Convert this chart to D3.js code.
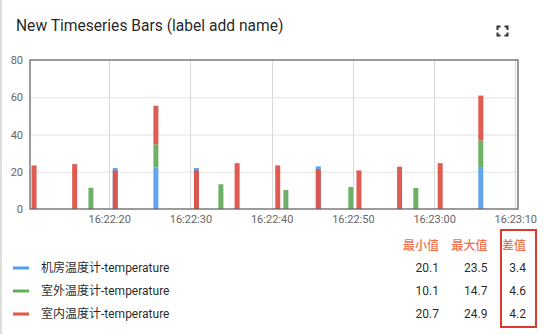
<!DOCTYPE html>
<html>
<head>
<meta charset="utf-8">
<script src="https://cdn.jsdelivr.net/npm/d3@7/dist/d3.min.js"></script>
<style>
  html, body { margin: 0; padding: 0; background: #fff; }
  svg { display: block; font-family: Roboto, "Noto Sans CJK SC", sans-serif; }
</style>
</head>
<body>
<svg id="chart" width="544" height="334"></svg>
<script>
// chart data
const title = 'New Timeseries Bars (label add name)';
const seriesNames = ['机房温度计-temperature', '室外温度计-temperature', '室内温度计-temperature'];

const blueTimes = ['16:22:20.740', '16:22:25.750', '16:22:30.740', '16:22:45.740', '16:23:05.750'];
const blueValues = [22.0, 22.3, 22.0, 22.9, 22.1];

const greenTimes = ['16:22:17.750', '16:22:25.750', '16:22:33.750', '16:22:41.750',
  '16:22:49.750', '16:22:57.750', '16:23:05.750'];
const greenValues = [11.4, 12.4, 13.3, 10.2, 11.8, 11.3, 14.7];

const redTimes = ['16:22:10.750', '16:22:15.750', '16:22:20.750', '16:22:25.750',
  '16:22:30.750', '16:22:35.750', '16:22:40.750', '16:22:45.750', '16:22:50.750',
  '16:22:55.750', '16:23:00.750', '16:23:05.750'];
const redValues = [23.4, 24.1, 20.7, 20.7, 20.7, 24.6, 23.4, 21.4, 20.7, 22.7, 24.6, 24.1];

const timeRange = ['16:22:10.250', '16:23:10.330'];
const yTicks = [0, 20, 40, 60, 80];

const legendHeaders = ['最小值', '最大值', '差值'];
const legendMin = ['20.1', '10.1', '20.7'];
const legendMax = ['23.5', '14.7', '24.9'];
const legendDiff = ['3.4', '4.6', '4.2'];

const colors = ['#5aa0ee', '#66ad5e', '#dc5348'];
const swatchColors = ['#4f9ef2', '#5fb158', '#e8553f'];

const width = 544;
const margin = { top: 60, right: 26, bottom: 125, left: 30 };
const height = 334;

const parse = d3.timeParse('%H:%M:%S.%L');
const svg = d3.select('#chart');

// card edge on the left
svg.append('rect')
  .attr('x', 0).attr('y', 0)
  .attr('width', 2).attr('height', height)
  .attr('fill', '#dedede');

svg.append('text')
  .attr('x', 16).attr('y', 31)
  .attr('font-size', 15.6)
  .attr('fill', 'rgba(0,0,0,0.87)')
  .text(title);

// fullscreen icon
const fs = svg.append('g')
  .attr('transform', 'translate(497.5,26.5)')
  .attr('fill', 'none')
  .attr('stroke', '#333')
  .attr('stroke-width', 2);
fs.append('path').attr('d', 'M0,3.5V0H3 M7,0H10V3.5 M10,6V9H7 M3,9H0V6');

// series rows with stacking on equal timestamps
const series = [
  { times: blueTimes, values: blueValues },
  { times: greenTimes, values: greenValues },
  { times: redTimes, values: redValues }
];
const stackBase = new Map();
const bars = [];
series.forEach((s, si) => {
  s.times.forEach((t, i) => {
    const date = parse(t);
    const key = +date;
    const base = stackBase.get(key) || 0;
    bars.push({ si, date, y0: base, y1: base + s.values[i] });
    stackBase.set(key, base + s.values[i]);
  });
});

const x = d3.scaleTime()
  .domain(timeRange.map(parse))
  .range([margin.left, width - margin.right]);

const y = d3.scaleLinear()
  .domain([0, 80])
  .range([height - margin.bottom, margin.top]);

// grid
svg.append('g')
  .attr('stroke', '#e3e3e3')
  .selectAll('line')
  .data(yTicks.slice(1, -1))
  .join('line')
  .attr('x1', margin.left).attr('x2', width - margin.right)
  .attr('y1', d => y(d) + 0.5).attr('y2', d => y(d) + 0.5);

const xTicks = x.ticks(d3.timeSecond.every(10));
svg.append('g')
  .attr('stroke', '#dadada')
  .selectAll('line')
  .data(xTicks)
  .join('line')
  .attr('x1', d => Math.round(x(d)) + 0.5).attr('x2', d => Math.round(x(d)) + 0.5)
  .attr('y1', margin.top).attr('y2', height - margin.bottom);

// axes labels
const yAxis = g => g
  .attr('transform', `translate(${margin.left - 7},0)`)
  .call(d3.axisLeft(y).tickValues(yTicks).tickSize(0).tickPadding(0))
  .call(g => g.select('.domain').remove())
  .call(g => g.selectAll('text').attr('fill', '#666').attr('font-size', 11)
    .attr('font-family', 'Roboto, sans-serif'));

const xAxis = g => g
  .attr('transform', `translate(0,${height - margin.bottom + 6})`)
  .call(d3.axisBottom(x).tickValues(xTicks).tickFormat(d3.timeFormat('%H:%M:%S'))
    .tickSize(0).tickPadding(0))
  .call(g => g.select('.domain').remove())
  .call(g => g.selectAll('text').attr('fill', '#666').attr('font-size', 11)
    .attr('font-family', 'Roboto, sans-serif'));

svg.append('g').call(yAxis);
svg.append('g').call(xAxis);

// bars
const barPx = 5;
svg.append('g')
  .selectAll('rect')
  .data(bars)
  .join('rect')
  .attr('x', d => x(d.date) - barPx / 2)
  .attr('y', d => y(d.y1))
  .attr('width', barPx)
  .attr('height', d => y(d.y0) - y(d.y1))
  .attr('fill', d => colors[d.si])
  .attr('fill-opacity', 0.95);

// plot border
svg.append('rect')
  .attr('x', margin.left).attr('y', margin.top)
  .attr('width', width - margin.right - margin.left)
  .attr('height', height - margin.bottom - margin.top)
  .attr('fill', 'none')
  .attr('stroke', '#666')
  .attr('stroke-width', 1.3);

// legend table
const rowY = [268, 291, 314];
const colRight = [439, 487.5, 526];
const legend = svg.append('g').attr('font-size', 12);

legend.selectAll('.hdr')
  .data(legendHeaders)
  .join('text')
  .attr('class', 'hdr')
  .attr('x', (d, i) => colRight[i])
  .attr('y', 246)
  .attr('dy', '0.35em')
  .attr('text-anchor', 'end')
  .attr('font-weight', 500)
  .attr('fill', '#ef6f4b')
  .text(d => d);

const rows = legend.selectAll('.row')
  .data(seriesNames)
  .join('g')
  .attr('transform', (d, i) => `translate(0,${rowY[i]})`);

rows.append('line')
  .attr('x1', 13).attr('x2', 29)
  .attr('stroke', (d, i) => swatchColors[i])
  .attr('stroke-width', 3);

rows.append('text')
  .attr('x', 41).attr('dy', '0.35em')
  .attr('fill', 'rgba(0,0,0,0.87)')
  .text(d => d);

[legendMin, legendMax, legendDiff].forEach((col, ci) => {
  rows.append('text')
    .attr('x', colRight[ci]).attr('dy', '0.35em')
    .attr('text-anchor', 'end')
    .attr('fill', 'rgba(0,0,0,0.87)')
    .text((d, i) => col[i]);
});

// highlight box around the difference column
svg.append('rect')
  .attr('x', 501).attr('y', 230)
  .attr('width', 35).attr('height', 97)
  .attr('fill', 'none')
  .attr('stroke', '#db3a2d')
  .attr('stroke-width', 2);
</script>
</body>
</html>
